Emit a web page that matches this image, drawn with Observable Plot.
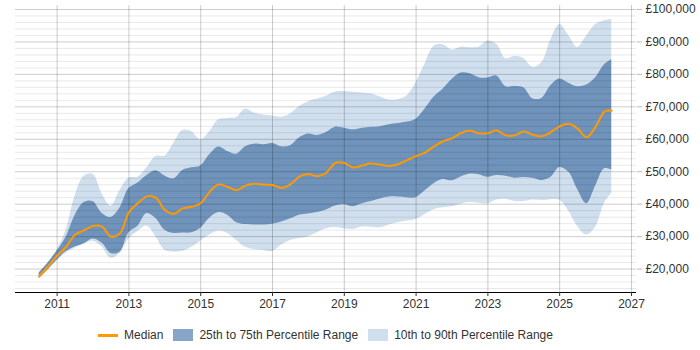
<!DOCTYPE html>
<html>
<head>
<meta charset="utf-8">
<script src="https://cdn.jsdelivr.net/npm/d3@7"></script>
<script src="https://cdn.jsdelivr.net/npm/@observablehq/plot@0.6"></script>
<style>
  body { margin: 0; background: #fff; font-family: "Liberation Sans", Arial, sans-serif; }
  #chart svg { display: block; }
  .legend { display: flex; justify-content: center; align-items: center; width: 621px; margin-left: 15px; margin-top: 12px; font-size: 12px; color: #333; }
  .item { display: flex; align-items: center; margin: 0 5px; }
  .sw { display: inline-block; width: 20px; height: 12px; margin-right: 6px; }
  .ln { display: inline-block; width: 20px; height: 3px; margin-right: 6px; background: #ff9900; }
</style>
</head>
<body>
<div id="chart"></div>
<div class="legend">
  <div class="item"><span class="ln"></span>Median</div>
  <div class="item"><span class="sw" style="background:#87a5c6"></span>25th to 75th Percentile Range</div>
  <div class="item"><span class="sw" style="background:#d0dfee"></span>10th to 90th Percentile Range</div>
</div>
<script>
const years = [2010.5,2010.75,2011,2011.25,2011.5,2011.75,2012,2012.25,2012.5,2012.75,
  2013,2013.25,2013.5,2013.75,2014,2014.25,2014.5,2014.75,2015,2015.25,2015.5,2015.75,
  2016,2016.25,2016.5,2016.75,2017,2017.25,2017.5,2017.75,2018,2018.25,2018.5,2018.75,
  2019,2019.25,2019.5,2019.75,2020,2020.25,2020.5,2020.75,2021,2021.25,2021.5,2021.75,
  2022,2022.25,2022.5,2022.75,2023,2023.25,2023.5,2023.75,2024,2024.25,2024.5,2024.75,
  2025,2025.25,2025.5,2025.75,2026,2026.25,2026.45];

const median = [17800,20800,24100,26800,30600,31900,33300,33100,30000,31000,
  37500,40300,42400,42000,38200,37000,38700,39200,40300,43800,46100,45300,
  44300,45700,46300,46000,45900,45000,46100,48500,49300,48600,49700,52700,
  52700,51300,51900,52500,52200,51800,52300,53600,54800,55900,57800,59400,
  60300,61900,62600,61800,61900,62700,61200,61200,62400,61400,60900,62200,
  64000,64800,63300,60600,63800,68500,68800];

const p75 = [18800,21900,25600,29800,36500,40500,40800,37200,35900,38800,
  44800,46500,48800,50300,48700,47800,50400,51200,51800,55200,57600,56200,
  55400,57700,58500,58300,58700,57700,58000,60400,61600,61200,62100,63700,
  63400,62900,63400,63700,63900,64500,64900,65300,66200,69300,73000,75400,
  78400,80400,80200,79000,78900,79500,76200,76300,75900,72500,72600,76500,
  78600,77300,76200,76700,79000,83000,84500];

const p25 = [17000,19800,22800,25400,26800,27800,29300,28000,24800,25200,
  31200,33200,37100,35600,32000,31000,31100,31200,32600,35700,37400,36600,
  34300,33700,33600,33600,33800,34500,35500,36600,37000,37400,38200,39400,
  39900,39200,40100,40800,41600,42200,42200,42000,42000,44100,46300,47600,
  47200,48400,49300,49100,48300,48800,48600,48000,48200,48000,47300,48200,
  51300,49900,44500,40100,45500,50900,50500];

const p90 = [18800,22000,25900,32000,42500,48600,49200,43200,39300,44200,
  48000,48300,51200,54700,54800,58800,62700,62300,59800,62300,66000,66400,
  66700,69300,68000,67500,67200,66800,67800,70100,71600,72400,73300,74600,
  74700,74500,74300,74000,73000,72100,72200,73400,77500,83300,88700,89100,
  87500,88400,88200,88400,90300,89200,84800,85600,84900,82200,83600,90600,
  95400,92000,88300,91800,95300,96500,97000];

const p10 = [17000,19700,22600,24900,26400,27700,28600,26900,23300,24800,
  29300,31600,33300,30000,25800,25200,25500,26700,28600,30500,31700,31000,
  28800,26700,26000,25700,25400,27400,28800,29400,30000,31200,32400,32800,
  32400,32200,33000,32900,32700,33600,34300,34800,35300,36800,38300,38900,
  39200,40000,40500,40300,40100,41300,41500,40800,40800,41300,41100,41400,
  41200,37900,33100,30500,32900,40300,43300];

const yearTicks = [2011,2013,2015,2017,2019,2021,2023,2025,2027];
const majorTicks = [20000,30000,40000,50000,60000,70000,80000,90000,100000];
const minorTicks = [14000,16000,18000,22000,24000,26000,28000,32000,34000,36000,38000,
  42000,44000,46000,48000,52000,54000,56000,58000,62000,64000,66000,68000,
  72000,74000,76000,78000,82000,84000,86000,88000,92000,94000,96000,98000];

const rows = years.map((year, i) => ({year, median: median[i], p10: p10[i], p25: p25[i], p75: p75[i], p90: p90[i]}));

const yMin = 12780;
const chart = Plot.plot({
  width: 700,
  height: 316,
  marginLeft: 15,
  marginRight: 64,
  marginTop: 5,
  marginBottom: 24,
  x: {domain: [2009.84, 2027.14]},
  y: {domain: [yMin, 101230]},
  style: {fontFamily: "Liberation Sans, Arial, sans-serif", fontSize: "12px", color: "#333", background: "white"},
  marks: [
    Plot.areaY(rows, {x: "year", y1: "p10", y2: "p90", fill: "#d0dfee", curve: "catmull-rom"}),
    Plot.areaY(rows, {x: "year", y1: "p25", y2: "p75", fill: "#6f93ba", curve: "catmull-rom"}),
    Plot.ruleY(minorTicks, {stroke: "#000", strokeOpacity: 0.09}),
    Plot.ruleY(majorTicks, {stroke: "#000", strokeOpacity: 0.2}),
    Plot.ruleX(yearTicks, {stroke: "#000", strokeOpacity: 0.2}),
    Plot.line(rows, {x: "year", y: "median", stroke: "#ff9900", strokeWidth: 2, curve: "catmull-rom"}),
    Plot.ruleY([yMin], {stroke: "#000"}),
    Plot.axisX({ticks: yearTicks, tickFormat: d3.format("d"), tickSize: 4, tickPadding: 3, label: null}),
    Plot.axisY({anchor: "right", ticks: majorTicks, tickFormat: d => "£" + d3.format(",")(d), tickSize: 5, tickPadding: 4, label: null, stroke: "#bbb"})
  ]
});
document.getElementById("chart").appendChild(chart);
</script>
</body>
</html>
